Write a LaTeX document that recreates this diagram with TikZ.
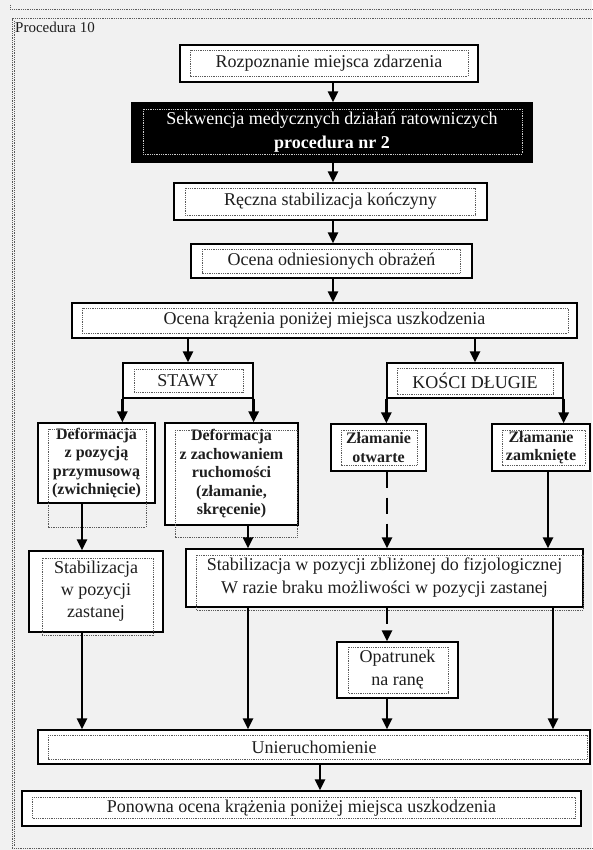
\documentclass[tikz,border=0pt]{standalone}
\usepackage{fontspec}
\setmainfont{Liberation Serif}
\usetikzlibrary{arrows.meta}
\definecolor{bg}{HTML}{F1F1F1}
\definecolor{dotc}{HTML}{5A5A5A}
\definecolor{txt}{HTML}{1E1E1E}
\begin{document}
\begin{tikzpicture}[x=1pt,y=-1pt,
  box/.style={draw=black, line width=1.3pt, fill=white, inner sep=0pt, align=center,
    font=\fontsize{18}{23}\selectfont, text=txt},
  bbox/.style={box, font=\bfseries\fontsize{16}{18.5}\selectfont},
  innerdot/.style={draw=dotc, line width=0.9pt, dash pattern=on 0.9pt off 0.9pt},
  arr/.style={line width=2.8pt, -{Triangle[width=10pt,length=11pt]}},
  darr/.style={arr, dash pattern=on 16pt off 10pt},
  frame/.style={draw=dotc, line width=1pt, dash pattern=on 0.9pt off 0.9pt}
]
\useasboundingbox (0,0) rectangle (592,850);
\fill[bg] (0,0) rectangle (592,850);
% outer page lines
\draw[frame] (10,5) -- (10,10) -- (592,10);
\draw[frame] (592,19) -- (12,19) -- (12,848) -- (592,848);
\draw[frame] (14,21) -- (14,846);
\node[anchor=north west, inner sep=0pt, font=\fontsize{15}{15}\selectfont, text=txt] (title) at (15,22) {Procedura 10};

% column coordinates
\coordinate (cM) at (333,0);
\coordinate (cA) at (82,0);
\coordinate (cB) at (248,0);
\coordinate (cC) at (387,0);
\coordinate (cD) at (548,0);
\coordinate (cE) at (553,0);
\coordinate (cU) at (320,0);

% boxes
\node[box, minimum width=298pt, minimum height=37pt] (n1) at (329,63.5) {Rozpoznanie miejsca zdarzenia};
\node[box, fill=black, text=white, font=\fontsize{18}{24}\selectfont, minimum width=400pt, minimum height=59pt] (n2) at (332,132.5)
  {Sekwencja medycznych działań ratowniczych\\\textbf{procedura nr 2}};
\node[box, minimum width=313pt, minimum height=37pt] (n3) at (330.5,201.5) {Ręczna stabilizacja kończyny};
\node[box, minimum width=281pt, minimum height=34pt] (n4) at (331.5,261) {Ocena odniesionych obrażeń};
\node[box, minimum width=505pt, minimum height=35pt] (n5) at (324.5,320.5) {Ocena krążenia poniżej miejsca uszkodzenia};
\node[box, minimum width=130pt, minimum height=35pt] (stawy) at (188,380.5) {STAWY};
\node[box, minimum width=176pt, minimum height=35pt] (kosci) at (475,380.5) {KOŚCI DŁUGIE};
\node[bbox, minimum width=117pt, minimum height=80pt] (d1) at (96.5,463)
  {Deformacja\\z pozycją\\przymusową\\(zwichnięcie)};
\node[bbox, minimum width=133pt, minimum height=102pt] (d2) at (231.5,474)
  {Deformacja\\z zachowaniem\\ruchomości\\(złamanie,\\skręcenie)};
\node[bbox, minimum width=95pt, minimum height=47pt] (z1) at (378.5,447.5) {Złamanie\\otwarte};
\node[bbox, minimum width=98pt, minimum height=47pt] (z2) at (541,447.5) {Złamanie\\zamknięte};
\node[box, font=\fontsize{18}{22}\selectfont, minimum width=134pt, minimum height=81pt] (s1) at (96,591.5)
  {Stabilizacja\\w pozycji\\zastanej};
\node[box, minimum width=397pt, minimum height=58pt] (s2) at (384.5,578)
  {Stabilizacja w pozycji zbliżonej do fizjologicznej\\W razie braku możliwości w pozycji zastanej};
\node[box, minimum width=121pt, minimum height=56pt] (op) at (397.5,670) {Opatrunek\\na ranę};
\node[box, minimum width=552pt, minimum height=34pt] (u) at (314,747) {Unieruchomienie};
\node[box, minimum width=559pt, minimum height=35pt] (p) at (301.5,808.5) {Ponowna ocena krążenia poniżej miejsca uszkodzenia};

% inner dotted frames
\draw[innerdot] (190,50) rectangle (468,76);
\draw[innerdot, draw=white!80!black] (143,109) rectangle (522,154);
\draw[innerdot] (185,188) rectangle (475,215);
\draw[innerdot] (202,249) rectangle (460,273);
\draw[innerdot] (82,308) rectangle (568,333);
\draw[innerdot] (134,369) rectangle (243,392);
\draw[innerdot] (397,368) rectangle (553,394);
\draw[innerdot] (48,429) rectangle (146,527);
\draw[innerdot] (175,430) rectangle (297,537);
\draw[innerdot] (341,430) rectangle (417,465);
\draw[innerdot] (502,430) rectangle (585,465);
\draw[innerdot] (42,558) rectangle (153,635);
\draw[innerdot] (196,555) rectangle (583,610);
\draw[innerdot] (348,647) rectangle (448,693);
\draw[innerdot] (48,735) rectangle (587,759);
\draw[innerdot] (32,797) rectangle (575,818);

% connectors
\draw[arr] (n1.south -| cM) -- (n2.north -| cM);
\draw[arr] (n2.south -| cM) -- (n3.north -| cM);
\draw[arr] (n3.south -| cM) -- (n4.north -| cM);
\draw[arr] (n4.south -| cM) -- (n5.north -| cM);
\draw[arr] (n5.south -| stawy.north) -- (stawy.north);
\draw[arr] (n5.south -| kosci.north) -- (kosci.north);
\draw[arr] (stawy.south west) -- (stawy.south west |- d1.north);
\draw[arr] (stawy.south east) -- (stawy.south east |- d2.north);
\draw[arr] (kosci.south west) -- (kosci.south west |- z1.north);
\draw[arr] (kosci.south east) -- (kosci.south east |- z2.north);
\draw[arr] (d1.south -| cA) -- (s1.north -| cA);
\draw[arr] (d2.south -| cB) -- (s2.north -| cB);
\draw[darr] (z1.south -| cC) -- (s2.north -| cC);
\draw[arr] (z2.south -| cD) -- (s2.north -| cD);
\draw[darr] (s2.south -| cC) -- (op.north -| cC);
\draw[arr] (s1.south -| cA) -- (u.north -| cA);
\draw[arr] (s2.south -| cB) -- (u.north -| cB);
\draw[arr] (op.south -| cC) -- (u.north -| cC);
\draw[arr] (s2.south -| cE) -- (u.north -| cE);
\draw[arr] (u.south -| cU) -- (p.north -| cU);
\end{tikzpicture}
\end{document}
